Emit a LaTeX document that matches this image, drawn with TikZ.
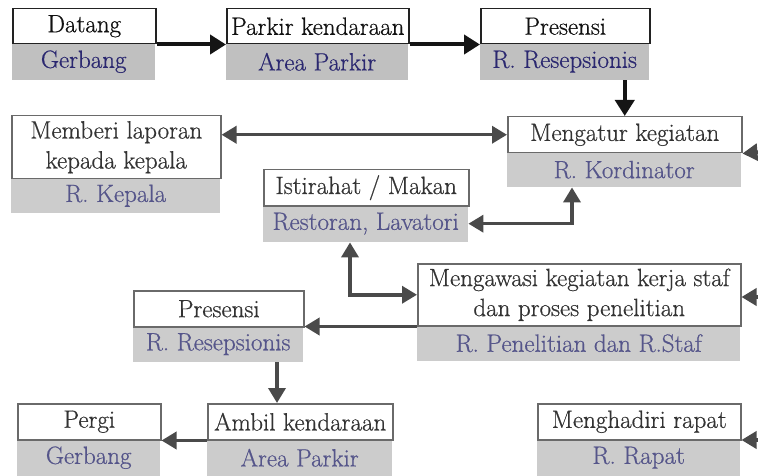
\documentclass[tikz,border=0pt]{standalone}
\usepackage{fontspec}
\setmainfont{Latin Modern Roman}
\newfontfamily\labelface{Latin Modern Roman}[FakeBold=0.6]
\usetikzlibrary{arrows.meta}

\definecolor{inkA}{HTML}{111111}
\definecolor{inkB}{HTML}{333333}
\definecolor{roomA}{HTML}{2B2870}
\definecolor{roomB}{HTML}{55558A}
\definecolor{fillA}{HTML}{C0C0C0}
\definecolor{fillB}{HTML}{CCCCCC}
\definecolor{edgeA}{HTML}{222222}
\definecolor{edgeB}{HTML}{6A6A6A}
\definecolor{arrA}{HTML}{151515}
\definecolor{arrB}{HTML}{4A4A4A}

\tikzset{
  base/.style={rectangle, anchor=north west, inner sep=0pt, align=center,
    font=\labelface\fontsize{25}{30}\selectfont},
  actA/.style={base, draw=edgeA, line width=1.5pt, fill=white, text=inkA},
  actB/.style={base, draw=edgeB, line width=1.5pt, fill=white, text=inkB},
  roomboxA/.style={base, fill=fillA, text=roomA},
  roomboxB/.style={base, fill=fillB, text=roomB},
  flowA/.style={draw=arrA, line width=4pt,
    -{Triangle[length=16pt,width=19pt]}},
  flowB/.style={draw=arrB, line width=3.5pt,
    -{Triangle[length=15pt,width=17pt]}},
  flowBB/.style={draw=arrB, line width=3.5pt,
    {Triangle[length=15pt,width=17pt]}-{Triangle[length=15pt,width=17pt]}},
}

\begin{document}
\begin{tikzpicture}[x=1pt,y=-1pt]
\useasboundingbox (0,0) rectangle (758,476);

% grey room strips
\node[roomboxA, minimum width=143pt, minimum height=37pt] (gerbang) at (12,43) {Gerbang};
\node[roomboxA, minimum width=182pt, minimum height=37pt] (parkirR) at (226,43) {Area Parkir};
\node[roomboxA, minimum width=169pt, minimum height=37pt] (resep) at (480,43) {R. Resepsionis};
\node[roomboxB, minimum width=234pt, minimum height=35pt] (kord) at (507,152) {R. Kordinator};
\node[roomboxB, minimum width=209pt, minimum height=35pt] (kepala) at (11,178) {R. Kepala};
\node[roomboxB, minimum width=205pt, minimum height=37pt] (lav) at (263,205) {Restoran, Lavatori};
\node[roomboxB, minimum width=323pt, minimum height=36pt] (staf) at (417,325) {R. Penelitian dan R.Staf};
\node[roomboxB, minimum width=170pt, minimum height=36pt] (resep2) at (133,326) {R. Resepsionis};
\node[roomboxB, minimum width=185pt, minimum height=37pt] (ambilR) at (207,439) {Area Parkir};
\node[roomboxB, minimum width=143pt, minimum height=37pt] (gerbang2) at (17,439) {Gerbang};
\node[roomboxB, minimum width=203pt, minimum height=37pt] (rapat) at (537,439) {R. Rapat};

% activity boxes
\node[actA, minimum width=143pt, minimum height=35pt] (datang) at (12,8) {Datang};
\node[actA, minimum width=182pt, minimum height=35pt] (parkir) at (226,8) {Parkir kendaraan};
\node[actA, minimum width=169pt, minimum height=35pt] (presensi) at (480,8) {Presensi};
\node[actB, minimum width=234pt, minimum height=36pt] (atur) at (507,116) {Mengatur kegiatan};
\node[actB, minimum width=209pt, minimum height=63pt] (memberi) at (11,115) {Memberi laporan\\kepada kepala};
\node[actB, minimum width=205pt, minimum height=36pt] (istirahat) at (263,169) {Istirahat / Makan};
\node[actB, minimum width=323pt, minimum height=62pt] (awasi) at (417,263) {Mengawasi kegiatan kerja staf\\dan proses penelitian};
\node[actB, minimum width=170pt, minimum height=36pt] (presensi2) at (133,290) {Presensi};
\node[actB, minimum width=185pt, minimum height=36pt] (ambil) at (207,403) {Ambil kendaraan};
\node[actB, minimum width=143pt, minimum height=36pt] (pergi) at (17,403) {Pergi};
\node[actB, minimum width=203pt, minimum height=36pt] (hadir) at (537,403) {Menghadiri rapat};

% connector ports on box edges
\coordinate (kordPort) at ([xshift=65pt]kord.south west);
\coordinate (lavPort) at ([xshift=87pt]lav.south west);
\coordinate (ambilPort) at ([xshift=70pt]ambil.north west);

% free ends at the right margin
\coordinate (inAtur) at (760,152);
\coordinate (inAwasi) at (760,297);
\coordinate (inHadir) at (760,440);

% arrival sequence
\draw[flowA] (datang.south east) -- (parkir.south west);
\draw[flowA] (parkir.south east) -- (presensi.south west);
\draw[flowA] (resep.south -| atur.north) -- (atur.north);

% coordinator links
\draw[flowBB] (memberi.east |- atur.west) -- (atur.west);
\draw[flowBB] (lav.east) -| (kordPort);
\draw[flowBB] (lavPort) |- (awasi.west);
\draw[flowB] (awasi.south west) -- (presensi2.south east |- awasi.south west);
\draw[flowB] (resep2.south -| ambilPort) -- (ambilPort);
\draw[flowB] (ambil.south west) -- (pergi.south east |- ambil.south west);

% arrows entering from the right
\draw[flowB] (inAtur) -- (atur.south east);
\draw[flowB] (inAwasi) -- (awasi.east |- inAwasi);
\draw[flowB] (inHadir) -- (hadir.east |- inHadir);
\end{tikzpicture}
\end{document}
